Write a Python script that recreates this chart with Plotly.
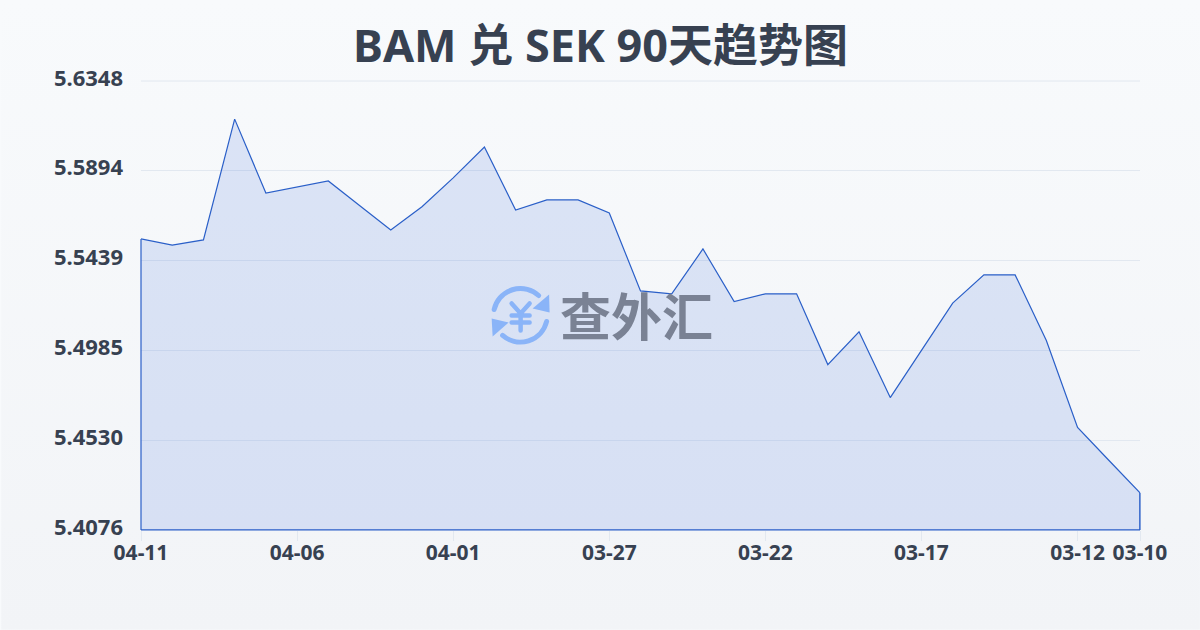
import base64
import plotly.graph_objects as go

title_text = "BAM 兑 SEK 90天趋势图"
watermark_text = "查外汇"
dates = ["04-11","04-10","04-09","04-08","04-07","04-06","04-05","04-04","04-03","04-02","04-01",
         "03-31","03-30","03-29","03-28","03-27","03-26","03-25","03-24","03-23","03-22","03-21",
         "03-20","03-19","03-18","03-17","03-16","03-15","03-14","03-13","03-12","03-11","03-10"]
rates = [5.5549,5.5518,5.5544,5.6155,5.5781,5.5811,5.5842,5.5718,5.5594,5.5712,5.5858,
         5.6014,5.5695,5.5746,5.5746,5.5680,5.5286,5.5271,5.5498,5.5232,5.5271,5.5271,
         5.4913,5.5079,5.4746,5.4985,5.5224,5.5367,5.5367,5.5035,5.4595,5.4429,5.4264]
y_ticks = [5.6348,5.5894,5.5439,5.4985,5.4530,5.4076]
x_tick_labels = ["04-11","04-06","04-01","03-27","03-22","03-17","03-12","03-10"]

FONT = "'Noto Sans','Noto Sans CJK SC',sans-serif"
INK = "#374151"
LINE = "#2a5fc8"

def uri(svg):
    return "data:image/svg+xml;base64," + base64.b64encode(svg.encode()).decode()

bg_svg = ('<svg xmlns="http://www.w3.org/2000/svg" width="1200" height="630" preserveAspectRatio="none">'
          '<defs><linearGradient id="g" x1="0" y1="0" x2="0" y2="1"><stop offset="0" stop-color="#f8fafc"/>'
          '<stop offset="1" stop-color="#f2f4f7"/></linearGradient></defs>'
          '<rect width="1200" height="630" fill="url(#g)"/></svg>')

icon_svg = ('<svg xmlns="http://www.w3.org/2000/svg" width="64" height="64" viewBox="0 0 64 64">'
            '<g fill="none" stroke="#8ab4f8" stroke-width="5" stroke-linecap="round">'
            '<path d="M5.5 26 A27 27 0 0 1 50 12"/>'
            '<path d="M58 38 A27 27 0 0 1 14 52"/>'
            '<path d="M23 20 L32 30 L41 20 M32 30 L32 47 M23 32 L41 32 M23 39 L41 39" stroke-width="4.5"/>'
            '</g><g fill="#8ab4f8"><path d="M60.5 11 L61 29 L44 25 Z"/><path d="M3 35 L20 39 L4 53 Z"/></g></svg>')

x_index = list(range(len(dates)))
x_ticks = [dates.index(d) for d in x_tick_labels]
y_span = y_ticks[0] - y_ticks[-1]

fig = go.Figure(go.Scatter(
    x=x_index + [x_index[-1], x_index[0]],
    y=rates + [y_ticks[-1], y_ticks[-1]],
    mode="lines", fill="toself", fillcolor="rgba(37,90,215,0.135)",
    line=dict(color=LINE, width=1.2), hoverinfo="skip",
))

edge = dict(color=LINE, width=1.2)
fig.update_layout(
    width=1200, height=630, autosize=False, showlegend=False,
    margin=dict(l=140.5, r=59.5, t=80.5, b=99.5),
    paper_bgcolor="#f8fafc", plot_bgcolor="rgba(0,0,0,0)",
    font=dict(family=FONT, color=INK),
    images=[
        dict(source=uri(bg_svg), xref="paper", yref="paper", x=-0.14, y=530/450, sizex=1.2, sizey=1.4,
             xanchor="left", yanchor="top", sizing="stretch", layer="below"),
        dict(source=uri(icon_svg), xref="paper", yref="paper", x=(488-140)/1000, y=(530-283)/450,
             sizex=0.064, sizey=64/450, xanchor="left", yanchor="top", sizing="stretch", layer="above"),
    ],
    shapes=[
        dict(type="line", xref="paper", x0=0, x1=1, yref="paper", y0=1, y1=1,
             line=dict(color="#e2e8f0", width=1), layer="below"),
        dict(type="line", xref="paper", x0=0, x1=1, yref="paper", y0=0, y1=0, line=edge),
        dict(type="line", xref="paper", x0=0, x1=0, yref="paper", y0=0,
             y1=(rates[0]-y_ticks[-1])/y_span, line=edge),
        dict(type="line", xref="paper", x0=1, x1=1, yref="paper", y0=0,
             y1=(rates[-1]-y_ticks[-1])/y_span, line=edge),
    ],
    annotations=[
        dict(text=f"<b>{title_text}</b>", xref="paper", yref="paper", x=0.46, y=(530-43)/450, showarrow=False,
             xanchor="center", yanchor="middle", font=dict(size=45, color=INK, family=FONT)),
        dict(text=f"<b>{watermark_text}</b>", xref="paper", yref="paper", x=(635.5-140)/1000, y=(530-314)/450,
             showarrow=False, xanchor="center", yanchor="middle",
             font=dict(size=51, color="#7a8294", family="'Noto Sans CJK SC',sans-serif")),
    ],
    xaxis=dict(range=[0, 32], tickmode="array", tickvals=x_ticks,
               ticktext=[f"<b>{t}</b>" for t in x_tick_labels],
               ticks="outside", ticklen=10, tickcolor="#e2e8f0", tickwidth=1,
               showgrid=False, zeroline=False, showline=False, ticklabelstandoff=-6,
               tickangle=0, tickfont=dict(size=21, color=INK, family=FONT)),
    yaxis=dict(range=[y_ticks[-1], y_ticks[0]], tickmode="array", tickvals=y_ticks,
               ticktext=[f"<b>{v:.4f}</b>" for v in y_ticks],
               gridcolor="#e2e8f0", gridwidth=1, zeroline=False, showline=False,
               ticks="", ticklabelstandoff=17, ticklabelshift=-3,
               tickfont=dict(size=22, color=INK, family=FONT)),
)
fig.write_html("out.html", config={"displayModeBar": False},
               post_script="document.documentElement.style.margin='0';document.body.style.margin='0';")
